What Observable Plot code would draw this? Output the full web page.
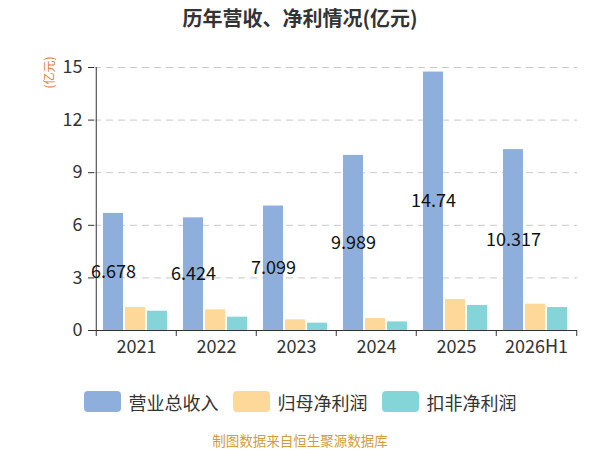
<!DOCTYPE html>
<html>
<head>
<meta charset="utf-8">
<script src="https://cdn.jsdelivr.net/npm/d3@7"></script>
<script src="https://cdn.jsdelivr.net/npm/@observablehq/plot@0.6"></script>
<style>
  html, body { margin: 0; padding: 0; background: #fff; }
  body { width: 600px; height: 450px; overflow: hidden; font-family: "Noto Sans CJK SC", "Noto Sans", sans-serif; }
  #title { height: 36px; line-height: 36px; text-align: center; font-size: 20px; font-weight: bold; color: #333; }
  #chart svg { display: block; }
  #legend { margin-top: 25px; height: 21px; display: flex; justify-content: center; align-items: center; font-size: 18px; color: #333; }
  .item { display: flex; align-items: center; margin: 0 7px; }
  .sw { width: 37px; height: 21px; border-radius: 4px; margin-right: 8px; }
  #caption { margin-top: 20px; height: 16px; line-height: 16px; text-align: center; font-size: 13.5px; color: #d19d3c; }
</style>
</head>
<body>
<div id="title">历年营收、净利情况(亿元)</div>
<div id="chart"></div>
<div id="legend"></div>
<div id="caption">制图数据来自恒生聚源数据库</div>
<script>
const years = ["2021", "2022", "2023", "2024", "2025", "2026H1"];
const revenue = [6.678, 6.424, 7.099, 9.989, 14.74, 10.317];
const netProfit = [1.31, 1.18, 0.61, 0.68, 1.77, 1.50];
const deductedProfit = [1.10, 0.76, 0.42, 0.49, 1.43, 1.31];
const yTicks = [0, 3, 6, 9, 12, 15];
const seriesNames = ["营业总收入", "归母净利润", "扣非净利润"];
const colors = ["#8eaedc", "#fed899", "#84d5d8"];

const rows = years.map((y, i) => ({year: y, revenue: revenue[i], net: netProfit[i], ded: deductedProfit[i]}));

const W = 600, H = 330, ML = 94, MR = 23, MT = 31, MB = 36;
const bw = (W - ML - MR) / years.length;
const barW = 20.5;
const lefts = [7, 29, 51];

const chart = Plot.plot({
  width: W,
  height: H,
  marginLeft: ML,
  marginRight: MR,
  marginTop: MT,
  marginBottom: MB,
  style: {fontFamily: "'Noto Sans CJK SC', 'Noto Sans', sans-serif", color: "#333", background: "white"},
  x: {domain: years, padding: 0},
  y: {domain: [0, 15]},
  marks: [
    Plot.gridY(yTicks.filter(t => t > 0), {stroke: "#c8c8c8", strokeOpacity: 1, strokeDasharray: "7,5"}),
    Plot.barY(rows, {x: "year", y: "revenue", fill: colors[0], insetLeft: lefts[0], insetRight: bw - lefts[0] - barW}),
    Plot.barY(rows, {x: "year", y: "net", fill: colors[1], insetLeft: lefts[1], insetRight: bw - lefts[1] - barW}),
    Plot.barY(rows, {x: "year", y: "ded", fill: colors[2], insetLeft: lefts[2], insetRight: bw - lefts[2] - barW}),
    Plot.text(rows, {x: "year", y: d => d.revenue / 2, text: d => String(d.revenue), dx: lefts[0] + barW / 2 - bw / 2, fontSize: 18, fill: "#111"}),
    Plot.ruleY([0], {stroke: "#333"}),
    Plot.ruleX([years[0]], {x: d => d, dx: -bw / 2, y1: 0, y2: 15, stroke: "#333"}),
    Plot.ruleX(years, {x: d => d, dx: -bw / 2, y1: 0, y2: -0.34, stroke: "#333"}),
    Plot.ruleX([years[years.length - 1]], {x: d => d, dx: bw / 2, y1: 0, y2: -0.34, stroke: "#333"}),
    Plot.axisY({ticks: yTicks, tickSize: 6, tickPadding: 6, fontSize: 18, label: null, color: "#333"}),
    Plot.axisX({tickSize: 0, tickPadding: 10, fontSize: 18, label: null, color: "#333"}),
    Plot.text(["(亿元)"], {frameAnchor: "top-left", text: d => d, dx: -49, dy: 21, rotate: -90, fill: "#e07b39", fontSize: 12})
  ]
});
document.getElementById("chart").appendChild(chart);

const legend = document.getElementById("legend");
seriesNames.forEach((name, i) => {
  const item = document.createElement("div");
  item.className = "item";
  const sw = document.createElement("div");
  sw.className = "sw";
  sw.style.background = colors[i];
  const label = document.createElement("span");
  label.textContent = name;
  item.appendChild(sw);
  item.appendChild(label);
  legend.appendChild(item);
});
</script>
</body>
</html>
